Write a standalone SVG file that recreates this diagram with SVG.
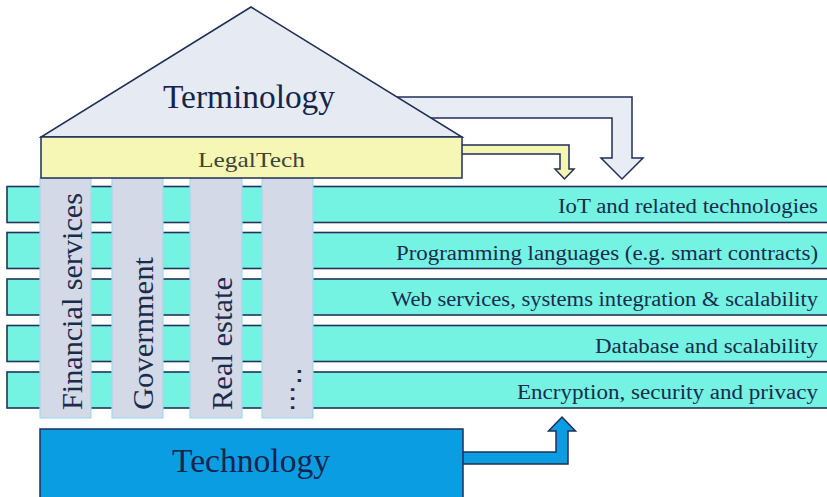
<svg xmlns="http://www.w3.org/2000/svg" width="827" height="497" viewBox="0 0 827 497">
<style>
.bar{fill:#74f2e2;stroke:#23325a;stroke-width:1.6}
.pillar{fill:#d3d9e6;stroke:#a3d8f2;stroke-width:1.2}
.edge{stroke:#1f2f55;stroke-width:1.5;stroke-linejoin:miter}
.bt{font-family:"Liberation Serif","Times New Roman",serif;font-size:20px;fill:#1b2b4b;text-anchor:end}
.pt{font-family:"Liberation Serif","Times New Roman",serif;font-size:30px;fill:#1b2b4b}
.big{font-family:"Liberation Serif","Times New Roman",serif;font-size:33px;fill:#14254a;text-anchor:middle}
</style>
<rect width="827" height="497" fill="#ffffff"/>
<g id="connectors">
<polygon class="edge" fill="#e8ecf4" points="390,97 632,97 632,158 643,158 622,179 601,158 612,158 612,118 390,118"/>
<polygon class="edge" fill="#f6f6b0" points="455,145 569,145 569,169 574,169 564.5,179 555,169 560,169 560,154 455,154"/>
<polygon class="edge" fill="#0b9de2" points="455,452 556,452 556,431 548.5,431 562,417 575.5,431 568,431 568,464 455,464"/>
</g>
<g id="layers">
<g id="layer-iot"><rect class="bar" x="7" y="186.5" width="822" height="36"/><text class="bt" x="818" y="213" textLength="260" lengthAdjust="spacingAndGlyphs">IoT and related technologies</text></g>
<g id="layer-programming"><rect class="bar" x="7" y="232.5" width="822" height="36"/><text class="bt" x="818" y="259.5" textLength="422" lengthAdjust="spacingAndGlyphs">Programming languages (e.g. smart contracts)</text></g>
<g id="layer-web"><rect class="bar" x="7" y="279" width="822" height="36"/><text class="bt" x="818" y="306" textLength="427" lengthAdjust="spacingAndGlyphs">Web services, systems integration &amp; scalability</text></g>
<g id="layer-database"><rect class="bar" x="7" y="325.5" width="822" height="36"/><text class="bt" x="818" y="352.5" textLength="223" lengthAdjust="spacingAndGlyphs">Database and scalability</text></g>
<g id="layer-encryption"><rect class="bar" x="7" y="372" width="822" height="36"/><text class="bt" x="818" y="399" textLength="301" lengthAdjust="spacingAndGlyphs">Encryption, security and privacy</text></g>
</g>
<g id="pillar-financial"><rect class="pillar" x="40" y="178" width="51" height="240"/><text class="pt" transform="translate(82,410) rotate(-90)" textLength="217" lengthAdjust="spacingAndGlyphs">Financial services</text></g>
<g id="pillar-government"><rect class="pillar" x="112" y="178" width="51" height="240"/><text class="pt" transform="translate(153,410) rotate(-90)" textLength="153" lengthAdjust="spacingAndGlyphs">Government</text></g>
<g id="pillar-realestate"><rect class="pillar" x="190" y="178" width="52" height="240"/><text class="pt" transform="translate(232,410) rotate(-90)" textLength="133" lengthAdjust="spacingAndGlyphs">Real estate</text></g>
<g id="pillar-more"><rect class="pillar" x="262" y="178" width="51" height="240"/><text transform="translate(301,412) rotate(-90)" font-family="DejaVu Sans, sans-serif" font-size="27" fill="#1b2b4b">⋯‥</text></g>
<g id="terminology"><polygon class="edge" fill="#e6eaf3" points="251,7 462,137 41,137"/><text class="big" x="249" y="108" textLength="172" lengthAdjust="spacingAndGlyphs">Terminology</text></g>
<g id="legaltech"><rect class="edge" fill="#f7f7b5" x="41" y="137" width="421" height="41"/><text x="251.5" y="167" font-family="Liberation Serif, Times New Roman, serif" font-size="22" fill="#3c4636" text-anchor="middle" textLength="107" lengthAdjust="spacingAndGlyphs">LegalTech</text></g>
<g id="technology"><rect class="edge" fill="#0b9de2" x="40" y="429" width="423" height="72"/><text class="big" x="251" y="472" textLength="158" lengthAdjust="spacingAndGlyphs">Technology</text></g>
</svg>
